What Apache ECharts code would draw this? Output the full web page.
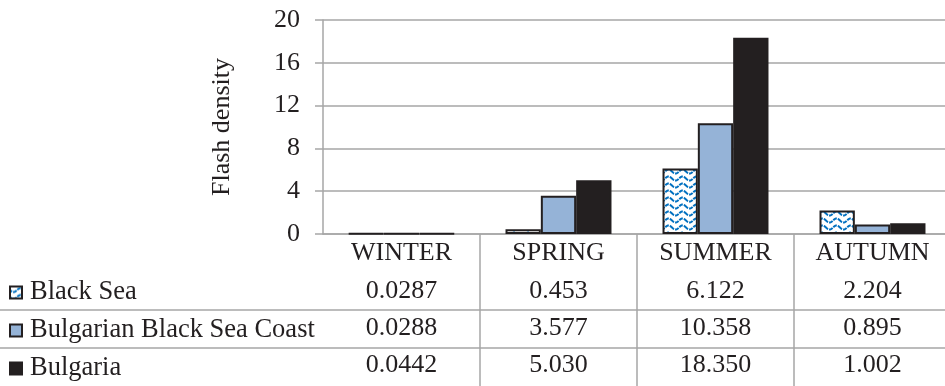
<!DOCTYPE html>
<html>
<head>
<meta charset="utf-8">
<script src="https://cdn.jsdelivr.net/npm/echarts@6/dist/echarts.min.js"></script>
<style>
  html, body { margin: 0; padding: 0; background: #fff; }
  #chart { width: 945px; height: 386px; }
</style>
</head>
<body>
<div id="chart"></div>
<script>
// Seasons and flash density values per region
var seasons = ['WINTER', 'SPRING', 'SUMMER', 'AUTUMN'];
var seriesNames = ['Black Sea', 'Bulgarian Black Sea Coast', 'Bulgaria'];
var blackSea = ['0.0287', '0.453', '6.122', '2.204'];
var coast = ['0.0288', '3.577', '10.358', '0.895'];
var bulgaria = ['0.0442', '5.030', '18.350', '1.002'];
var yTicks = [0, 4, 8, 12, 16, 20];

var FONT = 'Liberation Serif';
var TEXT = '#231F20';
var GRID = '#A6A6A6';

// Wavy blue fill used for the Black Sea bars
function wavePattern() {
  var c = document.createElement('canvas');
  c.width = 14; c.height = 7;
  var g = c.getContext('2d');
  g.fillStyle = '#ffffff';
  g.fillRect(0, 0, 14, 7);
  g.strokeStyle = '#0070C0';
  g.lineWidth = 2;
  g.setLineDash([4, 1]);
  g.beginPath();
  for (var x = -1; x <= 15; x += 0.5) {
    var y = 3.5 + 2 * Math.sin(2 * Math.PI * x / 14);
    if (x === -1) g.moveTo(x, y); else g.lineTo(x, y);
  }
  g.stroke();
  return c;
}

var columns = [blackSea, coast, bulgaria];
var fills = [{ image: wavePattern(), repeat: 'repeat' }, '#95B3D7', '#231F20'];

var chart = echarts.init(document.getElementById('chart'), null, { renderer: 'canvas' });

var option = {
  animation: false,
  backgroundColor: '#ffffff',
  textStyle: { fontFamily: FONT, color: TEXT },
  grid: {
    left: 323, width: 628, top: 20, bottom: 152,
    containLabel: false,
    outerBoundsMode: 'none'
  },
  legend: {
    orient: 'vertical',
    left: 9,
    top: 279,
    padding: 0,
    itemWidth: 12,
    itemHeight: 12,
    itemGap: 11,
    icon: 'rect',
    data: seriesNames,
    selectedMode: false,
    formatter: function (name) { return '{t|' + name + '}'; },
    textStyle: {
      fontFamily: FONT, fontSize: 26, lineHeight: 26, color: TEXT,
      rich: { t: { fontFamily: FONT, fontSize: 26.5, lineHeight: 26, color: TEXT, padding: [0, 0, 0, 3] } }
    },
    itemStyle: { borderColor: '#231F20', borderWidth: 2 }
  },
  xAxis: {
    type: 'category',
    data: seasons,
    boundaryGap: true,
    axisLine: { show: true, lineStyle: { color: GRID, width: 1.5 } },
    axisTick: { show: false },
    splitLine: { show: false },
    axisLabel: {
      interval: 0,
      margin: -1,
      fontFamily: FONT,
      formatter: function (value, idx) {
        return '{h|' + value + '}\n' +
          columns.map(function (col) { return '{v|' + col[idx] + '}'; }).join('\n');
      },
      rich: {
        h: { fontFamily: FONT, fontSize: 26, lineHeight: 40, color: TEXT },
        v: { fontFamily: FONT, fontSize: 26, lineHeight: 37, color: TEXT }
      }
    }
  },
  yAxis: {
    type: 'value',
    min: yTicks[0],
    max: yTicks[yTicks.length - 1],
    interval: yTicks[1] - yTicks[0],
    name: 'Flash density',
    nameLocation: 'middle',
    nameRotate: 90,
    nameGap: 88,
    nameTextStyle: { fontFamily: FONT, fontSize: 26, color: TEXT },
    axisLine: { show: true, lineStyle: { color: GRID, width: 1.5 } },
    axisTick: { show: true, length: 8, lineStyle: { color: GRID, width: 1.5 } },
    splitLine: { show: true, lineStyle: { color: GRID, width: 1.5 } },
    axisLabel: { margin: 23, fontFamily: FONT, fontSize: 26, color: TEXT }
  },
  series: seriesNames.map(function (name, i) {
    return {
      name: name,
      type: 'bar',
      data: columns[i].map(Number),
      barGap: '0%',
      barCategoryGap: '32.5%',
      itemStyle: { color: fills[i], borderColor: '#231F20', borderWidth: 2 }
    };
  })
};

chart.setOption(option);

// Data table grid lines: row separators and column dividers below the axis
function tableLines() {
  var els = [];
  var axisY = chart.convertToPixel({ yAxisIndex: 0 }, 0);
  var lineStyle = { stroke: GRID, lineWidth: 1.5 };
  [310, 348].forEach(function (y) {
    els.push({ type: 'line', silent: true, shape: { x1: 0, y1: y, x2: 945, y2: y }, style: lineStyle });
  });
  for (var i = 0; i < seasons.length - 1; i++) {
    var a = chart.convertToPixel({ xAxisIndex: 0 }, seasons[i]);
    var b = chart.convertToPixel({ xAxisIndex: 0 }, seasons[i + 1]);
    var x = Math.round((a + b) / 2);
    els.push({ type: 'line', silent: true, shape: { x1: x, y1: axisY, x2: x, y2: 386 }, style: lineStyle });
  }
  return els;
}

chart.setOption({ graphic: { elements: tableLines() } });
</script>
</body>
</html>
